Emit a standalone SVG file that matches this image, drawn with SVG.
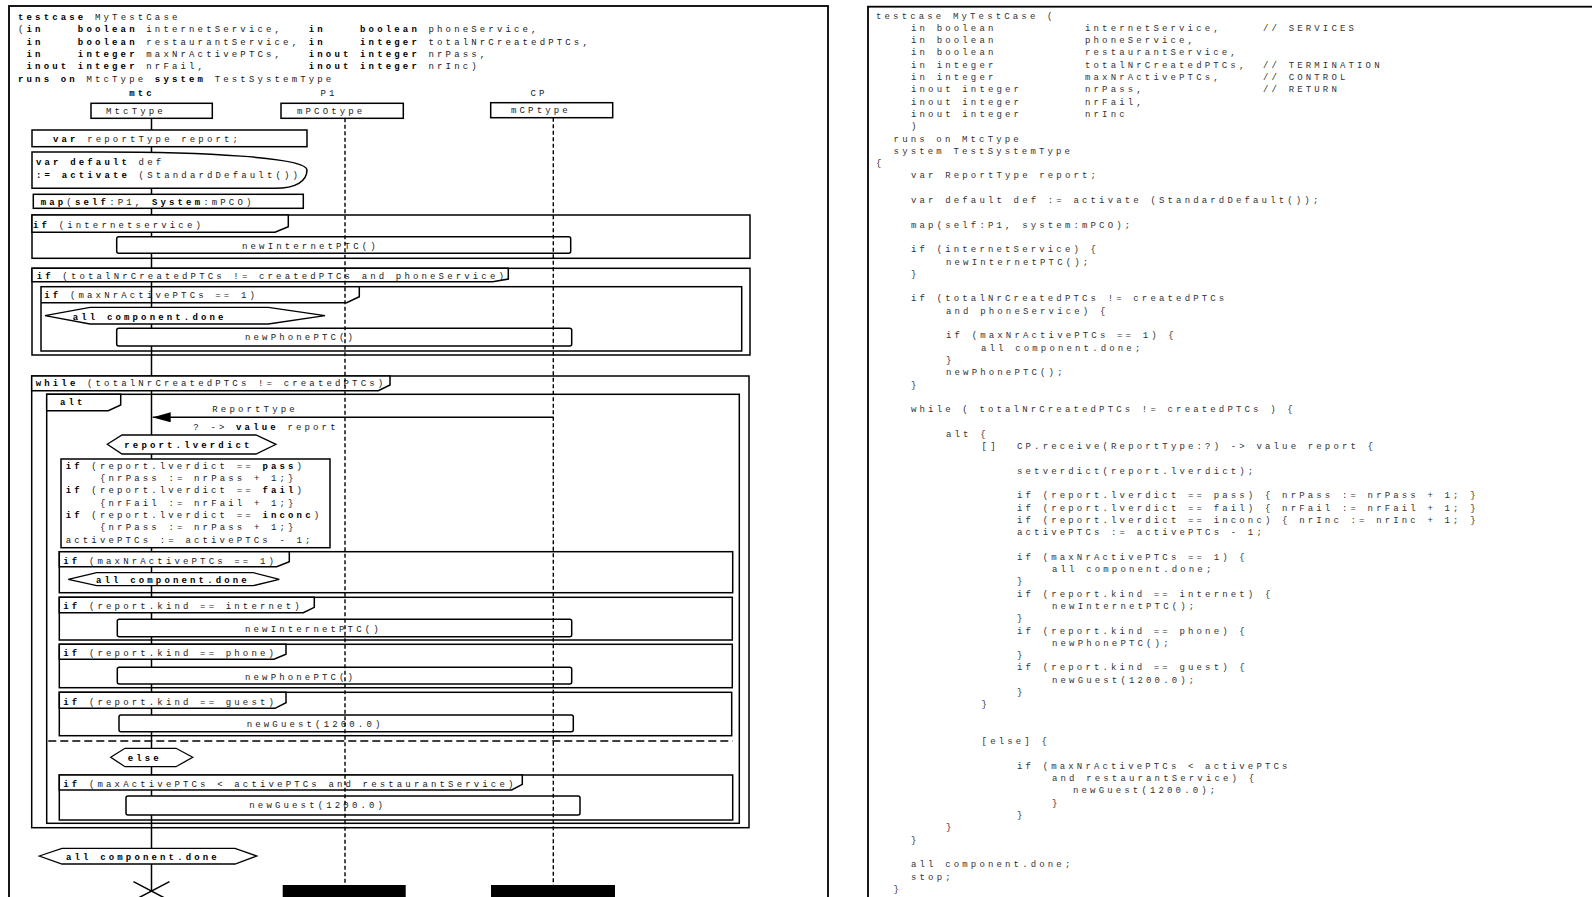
<svg xmlns="http://www.w3.org/2000/svg" width="1592" height="897" viewBox="0 0 1592 897">
<style>
.t{font-family:"Liberation Mono","DejaVu Sans Mono",monospace;font-size:9px;letter-spacing:3.15px;fill:#1a1a1a}
.r{fill:#333}
.b{font-weight:bold;fill:#000}
.fr{fill:none;stroke:#000;stroke-width:1.5}
.tab{fill:#fff;stroke:#000;stroke-width:1.5}
.tabn{fill:none;stroke:#000;stroke-width:1.5}
.bx{fill:#fff;stroke:#000;stroke-width:1.5}
.hx{fill:#fff;stroke:#000;stroke-width:1.3}
.ll{stroke:#000;stroke-width:1.5;fill:none}
.dl{stroke:#000;stroke-width:1.4;stroke-dasharray:4 2.5;fill:none}
</style>
<defs>
<marker id="ah" viewBox="0 0 18 10" refX="18" refY="5" markerWidth="18" markerHeight="10" markerUnits="userSpaceOnUse" orient="auto"><path d="M0,0 L18,5 L0,10 Z" fill="#000"/></marker>
</defs>
<rect width="1592" height="897" fill="#fff"/>

<!-- LEFT PANEL -->
<g id="left-panel">
<rect x="9" y="6" width="819" height="900" fill="none" stroke="#000" stroke-width="1.8"/>
<g id="header">
<text class="t" x="18" y="20" xml:space="preserve"><tspan class="b">testcase</tspan> MyTestCase</text>
<text class="t" x="18" y="32.3" xml:space="preserve">(<tspan class="b">in    boolean</tspan> internetService,   <tspan class="b">in    boolean</tspan> phoneService,</text>
<text class="t" x="18" y="44.6" xml:space="preserve"> <tspan class="b">in    boolean</tspan> restaurantService, <tspan class="b">in    integer</tspan> totalNrCreatedPTCs,</text>
<text class="t" x="18" y="56.9" xml:space="preserve"> <tspan class="b">in    integer</tspan> maxNrActivePTCs,   <tspan class="b">inout integer</tspan> nrPass,</text>
<text class="t" x="18" y="69.2" xml:space="preserve"> <tspan class="b">inout integer</tspan> nrFail,            <tspan class="b">inout integer</tspan> nrInc)</text>
<text class="t" x="18" y="81.5" xml:space="preserve"><tspan class="b">runs on</tspan> MtcType <tspan class="b">system</tspan> TestSystemType</text>
</g>
</g>

<g id="connectors">
<line id="lifeline-mtc" class="ll" x1="151.5" y1="118" x2="151.5" y2="891"/>
</g>

<g id="frames">
<g id="frame-internet">
<rect class="fr" x="32" y="215" width="718" height="43.3"/>
<path class="tab" d="M32,215 H288.3 V226.7 L275,232.3 H32 Z"/>
<text class="t" x="33" y="227.5" xml:space="preserve"><tspan class="b">if</tspan> (internetservice)</text>
</g>
<g id="frame-total">
<rect class="fr" x="32" y="268.3" width="718" height="86.7"/>
<path class="tab" d="M32,268.3 H508.3 V279 L492.7,281.7 H32 Z"/>
<text class="t" x="36.7" y="278.5" xml:space="preserve"><tspan class="b">if</tspan> (totalNrCreatedPTCs != createdPTCs and phoneService)</text>
</g>
<g id="frame-maxnr">
<rect class="fr" x="41" y="286.7" width="700.7" height="64.3"/>
<path class="tabn" d="M41,302.7 H346.7 L359.3,296.7 V286.7"/>
<text class="t" x="44.3" y="297.5" xml:space="preserve"><tspan class="b">if</tspan> (maxNrActivePTCs == 1)</text>
</g>
<g id="frame-while">
<rect class="fr" x="31.7" y="376" width="717.3" height="451.7"/>
<path class="tab" d="M31.7,376 H390 V385 L378.3,390.7 H31.7 Z"/>
<text class="t" x="35.7" y="386" xml:space="preserve"><tspan class="b">while</tspan> (totalNrCreatedPTCs != createdPTCs)</text>
</g>
<g id="frame-alt">
<rect class="fr" x="46.7" y="394.3" width="692.6" height="429"/>
<path class="tab" d="M46.7,394.3 H120.7 V405 L108.3,410.7 H46.7 Z"/>
<text class="t b" x="60" y="405">alt</text>
<line x1="48.3" y1="741" x2="732.7" y2="741" stroke="#000" stroke-width="1.4" stroke-dasharray="8 4"/>
</g>
<g id="frame-maxnr2">
<rect class="fr" x="59.3" y="551.7" width="673.4" height="41"/>
<path class="tab" d="M59.3,551.7 H289.3 V561.7 L276.7,566.7 H59.3 Z"/>
<text class="t" x="63.3" y="563.5" xml:space="preserve"><tspan class="b">if</tspan> (maxNrActivePTCs == 1)</text>
</g>
<g id="frame-kind-internet">
<rect class="fr" x="59.3" y="597.3" width="673" height="42.7"/>
<path class="tab" d="M59.3,597.3 H314.3 V607.3 L303.3,612.7 H59.3 Z"/>
<text class="t" x="63.3" y="608.5" xml:space="preserve"><tspan class="b">if</tspan> (report.kind == internet)</text>
</g>
<g id="frame-kind-phone">
<rect class="fr" x="59.3" y="644.3" width="673" height="43.4"/>
<path class="tab" d="M59.3,644.3 H286 V654.3 L274,659.3 H59.3 Z"/>
<text class="t" x="63.3" y="656" xml:space="preserve"><tspan class="b">if</tspan> (report.kind == phone)</text>
</g>
<g id="frame-kind-guest">
<rect class="fr" x="59.3" y="692.3" width="672.4" height="43.4"/>
<path class="tab" d="M59.3,692.3 H286 V702.7 L275,708.3 H59.3 Z"/>
<text class="t" x="63.3" y="704.5" xml:space="preserve"><tspan class="b">if</tspan> (report.kind == guest)</text>
</g>
<g id="frame-restaurant">
<rect class="fr" x="59.3" y="775" width="673.4" height="45"/>
<path class="tab" d="M59.3,775 H522.3 V784.3 L511.7,790 H59.3 Z"/>
<text class="t" x="63.3" y="786.8" xml:space="preserve"><tspan class="b">if</tspan> (maxActivePTCs &lt; activePTCs and restaurantService)</text>
</g>
</g>

<g id="instances">
<g id="inst-mtc">
<text class="t b" x="142" y="95.5" text-anchor="middle">mtc</text>
<rect class="bx" x="91" y="103.3" width="121.3" height="15"/>
<text class="t" x="106" y="113.5">MtcType</text>
</g>
<g id="inst-p1">
<text class="t" x="329" y="95.5" text-anchor="middle">P1</text>
<rect class="bx" x="281" y="103.3" width="122.3" height="15"/>
<text class="t" x="297" y="113.5">mPCOtype</text>
</g>
<g id="inst-cp">
<text class="t" x="539" y="95.5" text-anchor="middle">CP</text>
<rect class="bx" x="490.7" y="102.7" width="122" height="15"/>
<text class="t" x="511" y="113">mCPtype</text>
</g>
</g>

<g id="nodes">
<g id="var-report">
<rect class="bx" x="32" y="130" width="275" height="16.7"/>
<text class="t" x="53" y="142" xml:space="preserve"><tspan class="b">var</tspan> reportType report;</text>
</g>
<g id="var-default">
<path class="bx" d="M32,152 L100,152 C200,152 307,157 307,170 C307,181 296,188.3 275,188.3 L32,188.3 Z"/>
<text class="t" x="36" y="164.5" xml:space="preserve"><tspan class="b">var default</tspan> def</text>
<text class="t" x="36" y="177.5" xml:space="preserve"><tspan class="b">:= activate</tspan> (StandardDefault())</text>
</g>
<g id="map">
<rect class="bx" x="33.3" y="194.3" width="270" height="14"/>
<text class="t" x="40.7" y="205" xml:space="preserve"><tspan class="b">map</tspan>(<tspan class="b">self</tspan>:P1, <tspan class="b">System</tspan>:mPCO)</text>
</g>
<g id="new-internet-1">
<rect class="bx" x="116.7" y="236.7" width="454" height="16.6" rx="2"/>
<text class="t" x="242" y="248.5">newInternetPTC()</text>
</g>
<g id="done-1">
<polygon class="hx" points="45,315.7 90,307.3 268.3,307.3 325,315.7 268.3,324 90,324"/>
<text class="t b" x="72.7" y="319.5">all component.done</text>
</g>
<g id="new-phone-1">
<rect class="bx" x="116.7" y="328.3" width="455" height="17.7" rx="2"/>
<text class="t" x="245" y="340">newPhonePTC()</text>
</g>
<g id="verdict-cond">
<polygon class="hx" points="107.3,444.3 122,435 256,435 276,444.3 256,454 122,454"/>
<text class="t b" x="124.3" y="447.5">report.lverdict</text>
</g>
<g id="verdict-code">
<rect class="bx" x="61" y="459" width="269" height="88.7" stroke-width="1.8"/>
<text class="t" x="65.7" y="468.5" xml:space="preserve"><tspan class="b">if</tspan> (report.lverdict == <tspan class="b">pass</tspan>)</text>
<text class="t" x="100" y="481">{nrPass := nrPass + 1;}</text>
<text class="t" x="65.7" y="493.3" xml:space="preserve"><tspan class="b">if</tspan> (report.lverdict == <tspan class="b">fail</tspan>)</text>
<text class="t" x="100" y="505.5">{nrFail := nrFail + 1;}</text>
<text class="t" x="65.7" y="517.8" xml:space="preserve"><tspan class="b">if</tspan> (report.lverdict == <tspan class="b">inconc</tspan>)</text>
<text class="t" x="100" y="530.2">{nrPass := nrPass + 1;}</text>
<text class="t" x="65.7" y="542.6">activePTCs := activePTCs - 1;</text>
</g>
<g id="done-2">
<polygon class="hx" points="68.3,579.3 96.7,572.7 253.3,572.7 279.3,579.3 253.3,585.7 96.7,585.7"/>
<text class="t b" x="96" y="582.5">all component.done</text>
</g>
<g id="new-internet-2">
<rect class="bx" x="117.3" y="619.3" width="454.4" height="17.4" rx="2"/>
<text class="t" x="245" y="632">newInternetPTC()</text>
</g>
<g id="new-phone-2">
<rect class="bx" x="117.3" y="667.3" width="454.4" height="16.7" rx="2"/>
<text class="t" x="245" y="679.5">newPhonePTC()</text>
</g>
<g id="new-guest-1">
<rect class="bx" x="119" y="715" width="454.3" height="16.7" rx="2"/>
<text class="t" x="246.7" y="726.8">newGuest(1200.0)</text>
</g>
<g id="else">
<polygon class="hx" points="110.7,757.3 125,748.3 176,748.3 192.7,757.3 176,766.7 125,766.7"/>
<text class="t b" x="127.7" y="760.8">else</text>
</g>
<g id="new-guest-2">
<rect class="bx" x="126" y="796" width="454" height="19" rx="2"/>
<text class="t" x="249.3" y="807.5">newGuest(1200.0)</text>
</g>
<g id="done-3">
<polygon class="hx" points="39.3,856 62,848.3 235,848.3 256.7,856 235,864 62,864"/>
<text class="t b" x="66" y="859.5">all component.done</text>
</g>
<g id="stop">
<line class="ll" x1="133.5" y1="881.7" x2="169.5" y2="900.5"/>
<line class="ll" x1="169.5" y1="881.7" x2="133.5" y2="900.5"/>
</g>
<g id="end-p1"><rect x="282.7" y="885" width="123" height="14" fill="#000"/></g>
<g id="end-cp"><rect x="491" y="885" width="124" height="14" fill="#000"/></g>
</g>

<g id="connectors-top">
<line id="lifeline-p1" class="dl" x1="345" y1="118.3" x2="345" y2="885"/>
<line id="lifeline-cp" class="dl" x1="553.3" y1="117.7" x2="553.3" y2="885"/>
<g id="msg-reporttype">
<line x1="553.3" y1="417.3" x2="152.7" y2="417.3" stroke="#000" stroke-width="1.5" marker-end="url(#ah)"/>
<text class="t" x="212.3" y="411.8">ReportType</text>
<text class="t" x="193.3" y="429.5" xml:space="preserve">? -&gt; <tspan class="b">value</tspan> report</text>
</g>
</g>

<!-- RIGHT PANEL -->
<g id="right-panel">
<rect x="868" y="6.7" width="740" height="900" fill="none" stroke="#000" stroke-width="1.8"/>
<g class="t r" xml:space="preserve">
<text x="876" y="18.5">testcase MyTestCase (</text>
<text x="911" y="30.8">in boolean</text><text x="1085" y="30.8">internetService,</text><text x="1263" y="30.8">// SERVICES</text>
<text x="911" y="43.1">in boolean</text><text x="1085" y="43.1">phoneService,</text>
<text x="911" y="55.4">in boolean</text><text x="1085" y="55.4">restaurantService,</text>
<text x="911" y="67.7">in integer</text><text x="1085" y="67.7">totalNrCreatedPTCs,</text><text x="1263" y="67.7">// TERMINATION</text>
<text x="911" y="80">in integer</text><text x="1085" y="80">maxNrActivePTCs,</text><text x="1263" y="80">// CONTROL</text>
<text x="911" y="92.3">inout integer</text><text x="1085" y="92.3">nrPass,</text><text x="1263" y="92.3">// RETURN</text>
<text x="911" y="104.6">inout integer</text><text x="1085" y="104.6">nrFail,</text>
<text x="911" y="116.9">inout integer</text><text x="1085" y="116.9">nrInc</text>
<text x="911" y="129.2">)</text>
<text x="893.6" y="141.5">runs on MtcType</text>
<text x="893.6" y="153.8">system TestSystemType</text>
<text x="876" y="166.1">{</text>
<text x="911" y="178.4">var ReportType report;</text>
<text x="911" y="203">var default def := activate (StandardDefault());</text>
<text x="911" y="227.6">map(self:P1, system:mPCO);</text>
<text x="911" y="252.2">if (internetService)  {</text>
<text x="946" y="264.5">newInternetPTC();</text>
<text x="911" y="276.8">}</text>
<text x="911" y="301.4">if (totalNrCreatedPTCs != createdPTCs</text>
<text x="946" y="313.7">and phoneService) {</text>
<text x="946" y="338.3">if (maxNrActivePTCs == 1) {</text>
<text x="981" y="350.6">all component.done;</text>
<text x="946" y="362.9">}</text>
<text x="946" y="375.2">newPhonePTC();</text>
<text x="911" y="387.5">}</text>
<text x="911" y="412.1">while ( totalNrCreatedPTCs != createdPTCs ) {</text>
<text x="946" y="436.7">alt {</text>
<text x="981.6" y="449">[]</text><text x="1017" y="449">CP.receive(ReportType:?) -&gt; value report {</text>
<text x="1017" y="473.6">setverdict(report.lverdict);</text>
<text x="1017" y="498.2">if (report.lverdict == pass) { nrPass := nrPass + 1; }</text>
<text x="1017" y="510.5">if (report.lverdict == fail) { nrFail := nrFail + 1; }</text>
<text x="1017" y="522.8">if (report.lverdict == inconc) { nrInc := nrInc + 1; }</text>
<text x="1017" y="535.1">activePTCs := activePTCs - 1;</text>
<text x="1017" y="559.7">if (maxNrActivePTCs == 1) {</text>
<text x="1052" y="572">all component.done;</text>
<text x="1017" y="584.3">}</text>
<text x="1017" y="596.6">if (report.kind == internet) {</text>
<text x="1052" y="608.9">newInternetPTC();</text>
<text x="1017" y="621.2">}</text>
<text x="1017" y="633.5">if (report.kind == phone) {</text>
<text x="1052" y="645.8">newPhonePTC();</text>
<text x="1017" y="658.1">}</text>
<text x="1017" y="670.4">if (report.kind == guest) {</text>
<text x="1052" y="682.7">newGuest(1200.0);</text>
<text x="1017" y="695">}</text>
<text x="981.6" y="707.3">}</text>
<text x="981.6" y="744.2">[else] {</text>
<text x="1017" y="768.8">if (maxNrActivePTCs &lt; activePTCs</text>
<text x="1052" y="781.1">and restaurantService) {</text>
<text x="1073" y="793.4">newGuest(1200.0);</text>
<text x="1052" y="805.7">}</text>
<text x="1017" y="818">}</text>
<text x="946" y="830.3">}</text>
<text x="911" y="842.6">}</text>
<text x="911" y="867.2">all component.done;</text>
<text x="911" y="879.5">stop;</text>
<text x="893.6" y="891.8">}</text>
</g>
</g>
</svg>
